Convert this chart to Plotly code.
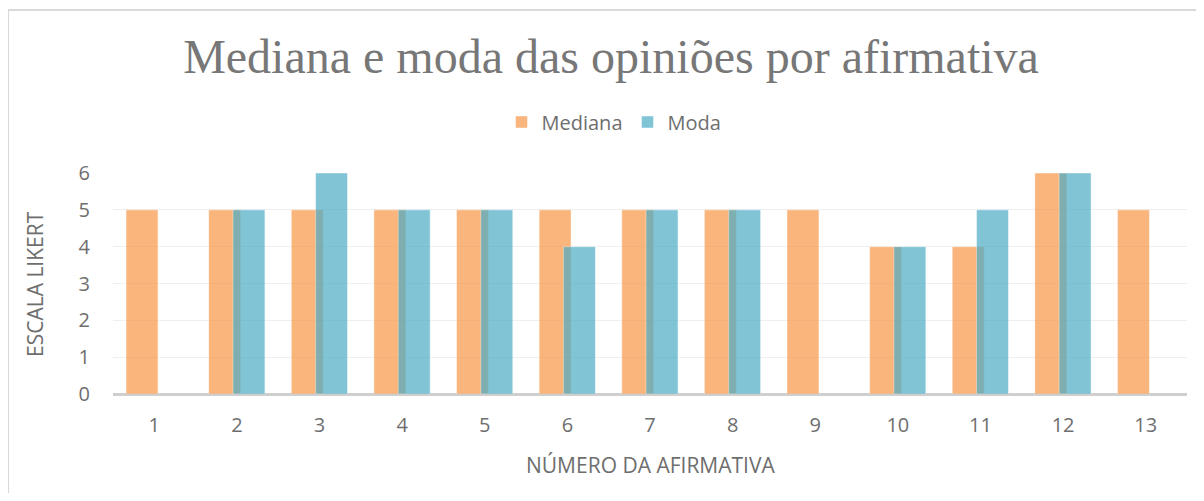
import plotly.graph_objects as go

categories = ["1", "2", "3", "4", "5", "6", "7", "8", "9", "10", "11", "12", "13"]
mediana = [5, 5, 5, 5, 5, 5, 5, 5, 5, 4, 4, 6, 5]
moda = [None, 5, 6, 5, 5, 4, 5, 5, None, 4, 5, 6, None]
y_ticks = [0, 1, 2, 3, 4, 5, 6]

# page has 8px body margin: figure is drawn at screen offset (8, 8)
OFF = 8
W, H = 1188, 485
# plot area in screen pixels
SL, SR, ST, SB = 113, 1187, 173, 394
L, T = SL - OFF, ST - OFF
R = W - (SR - OFF)
B = H - (SB - OFF)
pw, ph = SR - SL, SB - ST


def px(x):
    return (x - SL) / pw


def py(y):
    return (SB - y) / ph


bar_w = 0.387
fig = go.Figure()
fig.add_trace(go.Bar(
    x=categories, y=mediana, name="Mediana",
    marker=dict(color="#F79646", line=dict(color="rgba(255,255,255,0.6)", width=0.8)),
    opacity=0.7, width=bar_w, offset=-0.342,
))
fig.add_trace(go.Bar(
    x=categories, y=moda, name="Moda",
    marker=dict(color="#4BACC6", line=dict(color="rgba(255,255,255,0.6)", width=0.8)),
    opacity=0.7, width=bar_w, offset=-0.048,
))

fig.update_layout(
    width=W, height=H,
    margin=dict(l=L, r=R, t=T, b=B, autoexpand=False),
    paper_bgcolor="white", plot_bgcolor="white",
    barmode="overlay",
    title=dict(
        text="Mediana e moda das opiniões por afirmativa",
        font=dict(family="Liberation Serif", size=48, color="#777777"),
        x=(611 - OFF) / W, xanchor="center", y=1 - (56 - OFF) / H, yanchor="middle",
    ),
    legend=dict(
        orientation="h", x=px(614), xanchor="center", y=py(122), yanchor="middle",
        font=dict(family="Open Sans", size=20, color="#6e6e6e"),
        traceorder="normal", itemwidth=30,
    ),
    xaxis=dict(
        type="category", showgrid=False, showline=False, zeroline=False,
        tickfont=dict(family="Open Sans", size=20, color="#6e6e6e"),
        ticks="", ticklabelstandoff=17,
    ),
    yaxis=dict(
        range=[0, 6], tickvals=y_ticks, showgrid=True, gridcolor="#efefef", gridwidth=1,
        zeroline=True, zerolinecolor="#cfcfcf", zerolinewidth=3,
        tickfont=dict(family="Open Sans", size=20, color="#6e6e6e"),
        ticks="", ticklabelstandoff=22,
    ),
    shapes=[dict(
        type="rect", xref="paper", yref="paper",
        x0=px(8), x1=px(1400), y0=py(700), y1=py(10),
        line=dict(color="#d9d9d9", width=2), fillcolor="rgba(0,0,0,0)", layer="below",
    )],
    annotations=[
        dict(text="NÚMERO DA AFIRMATIVA", xref="paper", yref="paper",
             x=px(650), y=py(465), showarrow=False, xanchor="center", yanchor="middle",
             font=dict(family="Open Sans", size=21, color="#6e6e6e")),
        dict(text="ESCALA LIKERT", xref="paper", yref="paper",
             x=px(35), y=py(284), showarrow=False, xanchor="center", yanchor="middle",
             textangle=-90,
             font=dict(family="Open Sans", size=21, color="#6e6e6e")),
    ],
)

fig.write_html("out.html")
